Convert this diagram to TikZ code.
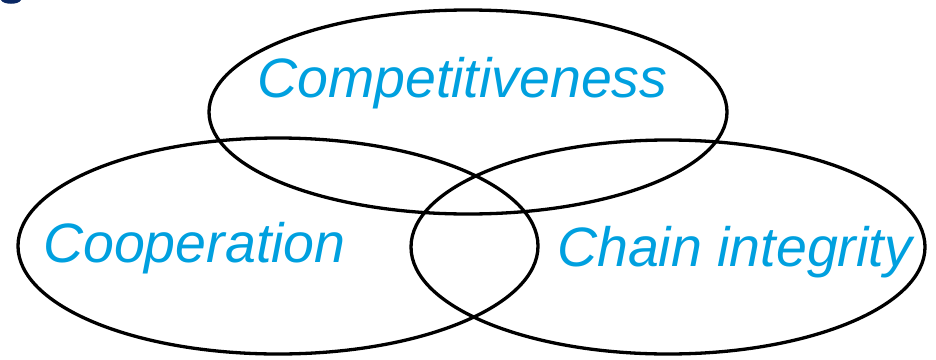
\documentclass[tikz,border=0pt]{standalone}
\usepackage{fontspec}
\setmainfont{Liberation Sans}
\usetikzlibrary{shapes}
\definecolor{venntext}{RGB}{0,160,223}
\definecolor{cutnavy}{RGB}{10,40,100}

\begin{document}
\begin{tikzpicture}[
			x = 1pt, y = -1pt,
			every node/.style = {inner sep = 0pt},
			circle set/.style = {draw, ellipse, line width = 3.3pt},
			set label/.style = {text = venntext, font = \fontsize{55.5}{66}\selectfont\itshape, anchor = base west}]
			\useasboundingbox (0,0) rectangle (936,359);

			% leftover of a cropped heading
			\fill[cutnavy] (1,0) .. controls (3,5) and (19,5) .. (21,0) -- cycle;

			% the three sets
			\node[circle set, minimum width = 518pt, minimum height = 204pt] (compet) at (468,112) {};
			\node[circle set, minimum width = 520pt, minimum height = 216pt] (coop) at (278,246) {};
			\node[circle set, minimum width = 514pt, minimum height = 214pt] (chain) at (668,247) {};

			% Labels
			\node[set label] (competlabel) at (257,97) {Competitiveness};
			\node[set label] (cooplabel) at (43,262) {Cooperation};
			\node[set label] (chainlabel) at (557,266) {Chain integrity};
		\end{tikzpicture}
\end{document}
